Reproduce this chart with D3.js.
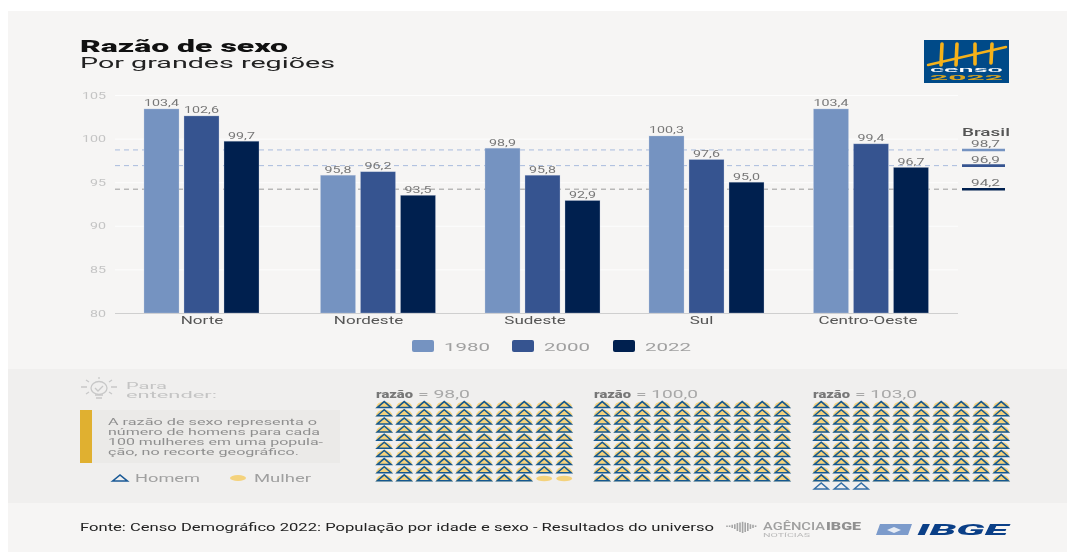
<!DOCTYPE html>
<html><head><meta charset="utf-8">
<script src="https://cdn.jsdelivr.net/npm/d3@7"></script>
<style>html,body{margin:0;background:#fff}svg{display:block;filter:blur(.4px)}text{font-family:Roboto,sans-serif}</style>
</head><body><svg id="c" width="1067" height="552"></svg>
<script>
const regions=["Norte","Nordeste","Sudeste","Sul","Centro-Oeste"];
const years=["1980","2000","2022"];
const v1980=[103.4,95.8,98.9,100.3,103.4];
const v2000=[102.6,96.2,95.8,97.6,99.4];
const v2022=[99.7,93.5,92.9,95.0,96.7];
const brasil=[98.7,96.9,94.2];
const yTicks=[80,85,90,95,100,105];
const ratios=[98,100,103];
const colors=["#7593c1","#365490","#00204f"];
const noteLines=["A razão de sexo representa o","número de homens para cada","100 mulheres em uma popula-","ção, no recorte geográfico."];
const fmt=v=>v.toFixed(1).replace(".",",");
const series=[v1980,v2000,v2022];

const svg=d3.select("#c");
function T(x,y,s,o={}){
  const t=svg.append("text").attr("x",x).attr("y",y).text(s)
    .attr("font-size",o.size||11).attr("fill",o.fill||"#666")
    .attr("font-weight",o.weight||400).attr("text-anchor",o.anchor||"start");
  if(o.style)t.attr("font-style",o.style);
  if(o.w)t.attr("textLength",o.w).attr("lengthAdjust","spacingAndGlyphs");
  return t;
}
function stretch(sel,k){sel.each(function(){const n=this.getComputedTextLength();
  d3.select(this).attr("textLength",n*k).attr("lengthAdjust","spacingAndGlyphs");});}

svg.append("rect").attr("x",8).attr("y",11).attr("width",1059).attr("height",541).attr("fill","#f6f5f4");
svg.append("rect").attr("x",8).attr("y",369).attr("width",1059).attr("height",134).attr("fill","#f0efee");

T(80,52,"Razão de sexo",{size:16,weight:900,fill:"#111",w:208});
T(80,68,"Por grandes regiões",{size:14.5,fill:"#222",w:255});

const y=d3.scaleLinear().domain([80,105]).range([313,95]);
const x=d3.scaleOrdinal(regions,[201.5,378,542.5,706.5,871]);
const xLabel=d3.scalePoint(regions,[201.5,867.5]);
const b=d3.scaleBand(years,[-57.5,57.5]).paddingInner(0.125);
const L=115,R=958;

// y axis
const ya=svg.append("g").attr("transform",`translate(${L},0)`)
  .call(d3.axisLeft(y).tickValues(yTicks).tickSize(-(R-L)).tickPadding(9));
ya.select(".domain").remove();
ya.selectAll(".tick line").attr("stroke",d=>d===80?"#cfcfcf":"#fdfdfd").attr("stroke-width",1);
ya.selectAll("text").attr("fill","#c4c4c4").attr("font-size",9.5).call(stretch,1.5);

// Brasil reference lines
const refCol=["#a9bbdd","#a9bbdd","#9a9a9a"];
brasil.forEach((v,i)=>{
  svg.append("line").attr("x1",L).attr("x2",R).attr("y1",y(v)).attr("y2",y(v))
    .attr("stroke",refCol[i]).attr("stroke-width",1).attr("stroke-dasharray","5 4");
  svg.append("line").attr("x1",962).attr("x2",1005).attr("y1",y(v)).attr("y2",y(v))
    .attr("stroke",colors[i]).attr("stroke-width",2.6);
});
T(962,136,"Brasil",{size:10,weight:500,fill:"#555",w:48});
T(971,147,fmt(brasil[0]),{size:9.5,fill:"#777",w:29});
T(971,163,fmt(brasil[1]),{size:9.5,fill:"#777",w:29});
T(971,186,fmt(brasil[2]),{size:9.5,fill:"#777",w:29});

// bars
years.forEach((yr,s)=>{
  const g=svg.append("g");
  g.selectAll("rect").data(series[s]).join("rect")
    .attr("x",(d,i)=>x(regions[i])+b(yr)).attr("width",b.bandwidth())
    .attr("y",d=>y(d)).attr("height",d=>y(80)-y(d)).attr("fill",colors[s])
    .attr("stroke","#c9d3e6").attr("stroke-opacity",.5).attr("stroke-width",.6);
  g.selectAll("text").data(series[s]).join("text")
    .attr("x",(d,i)=>x(regions[i])+b(yr)+b.bandwidth()/2).attr("y",d=>y(d)-2.6)
    .attr("text-anchor","middle").attr("font-size",9.5).attr("fill","#777").text(fmt)
    .call(stretch,1.5);
});

// x axis
const xa=svg.append("g").attr("transform","translate(0,313)")
  .call(d3.axisBottom(xLabel).tickSize(0).tickPadding(4));
xa.select(".domain").remove();
xa.selectAll("text").attr("font-size",10.5).attr("fill","#555").attr("font-family","Roboto").call(stretch,1.62);

// legend
const lx=d3.scaleOrdinal(years,[412,512,613]);
years.forEach((yr,i)=>{
  svg.append("rect").attr("x",lx(yr)).attr("y",340).attr("width",22).attr("height",12).attr("rx",2).attr("fill",colors[i]);
  T(lx(yr)+32,351,yr,{size:10.5,fill:"#a0a0a0",w:46});
});

// logo
svg.append("rect").attr("x",924).attr("y",40).attr("width",85).attr("height",43).attr("fill","#004a88");
const lg=svg.append("g").attr("stroke","#f5b21a").attr("stroke-linecap","round");
[[942,44,941,65],[957,44,956,65],[975,44,975,64],[992,44,991,63],[928,65,1006,47]].forEach(p=>
  lg.append("line").attr("x1",p[0]).attr("y1",p[1]).attr("x2",p[2]).attr("y2",p[3]).attr("stroke-width",p[0]===928?2.4:3.6));
T(930,72,"censo",{size:7.5,fill:"#fff",w:73,weight:500});
T(930,80,"2022",{size:7.5,fill:"#d9a520",w:73,weight:700});

// para entender
const bulb=svg.append("g").attr("fill","none").attr("stroke","#c8c8c8").attr("stroke-width",1.3);
bulb.append("ellipse").attr("cx",99).attr("cy",388).attr("rx",8).attr("ry",6.5);
bulb.append("path").attr("d","M95 395h8M96 398h6M95 388l3 3 5-5M81 387h6M111 387h6M86 380l3 2M112 380l-3 2M86 394l3-2M112 394l-3-2M99 379v-2");
T(126,388.5,"Para",{size:9.5,fill:"#c4c4c4",w:41});
T(126,397.5,"entender:",{size:9.5,fill:"#c4c4c4",w:91});
svg.append("rect").attr("x",80).attr("y",410).attr("width",260).attr("height",53).attr("fill","#ebeae8");
svg.append("rect").attr("x",80).attr("y",410).attr("width",12).attr("height",53).attr("fill","#e0b030");
const noteW=[209,212,215,191], noteY=[425,435,445,455];
noteLines.forEach((s,i)=>T(108,noteY[i],s,{size:9.5,fill:"#8f8f8f",w:noteW[i]}));

const triPath=d3.line()([[-7,3],[0,-3],[7,3]])+"Z";
const domePath="M-8.2,3.4A8.2,6.6 0 0 1 8.2,3.4Z";
svg.append("path").attr("d",triPath).attr("transform","translate(120,478) scale(1.05,1)").attr("fill","none").attr("stroke","#1a5a96").attr("stroke-width",1.6);
T(135,482,"Homem",{size:10,fill:"#a0a0a0",w:65});
svg.append("ellipse").attr("cx",238).attr("cy",478).attr("rx",8).attr("ry",3).attr("fill","#f4d27c");
T(254,482,"Mulher",{size:10,fill:"#a0a0a0",w:57});

// pictograms
const gx=d3.scaleOrdinal(ratios,[376,594,813]);
const cx=d3.scaleLinear().domain([0,9]).range([8.2,188.2]);
const cy=d3.scaleLinear().domain([0,10]).range([404.6,486]);
ratios.forEach(r=>{
  T(gx(r),398,"razão",{size:10,weight:900,fill:"#777",w:37});
  T(gx(r)+42,398,"= "+fmt(r),{size:10,fill:"#a8a8a8",w:r>=100?62:52});
  const g=svg.append("g").attr("transform",`translate(${gx(r)},0)`);
  const cells=d3.range(Math.max(r,100)).map(i=>({i,man:i<r,woman:i<100}));
  const c=g.selectAll("g").data(cells).join("g")
    .attr("transform",d=>`translate(${cx(d.i%10)},${cy(Math.floor(d.i/10))})`);
  c.filter(d=>d.woman&&d.man).append("path").attr("d",domePath).attr("fill","#f4d27c");
  c.filter(d=>d.woman&&!d.man).append("ellipse").attr("rx",8).attr("ry",2.8).attr("cy",.6).attr("fill","#f4d27c");
  c.filter(d=>d.man).append("path").attr("d",triPath).attr("fill","none")
    .attr("stroke",d=>d.woman?"#15588f":"#356fa6").attr("stroke-width",1.5);
});

// footer
T(80,531,"Fonte: Censo Demográfico 2022: População por idade e sexo - Resultados do universo",{size:10,weight:400,fill:"#222",w:634});
const ag=svg.append("g").attr("stroke","#a5a5a5").attr("stroke-width",1.6);
d3.range(727,758,2.6).forEach((px,i)=>{const h=[1,1,2,3,5,6,7,6,5,3,2,1,1][i]||1;
  ag.append("line").attr("x1",px).attr("x2",px).attr("y1",526-h*.6).attr("y2",526+h);});
T(763,530,"AGÊNCIA",{size:10.5,weight:500,fill:"#a0a0a0",w:62});
T(826,530,"IBGE",{size:10.5,weight:900,fill:"#909090",w:35});
T(763,537,"NOTÍCIAS",{size:6,fill:"#bbb",w:47});
svg.append("path").attr("d","M880 524H912L908 535H876Z").attr("fill","#7c9bcb");
svg.append("path").attr("d","M887 530L894 527L901 530L894 533Z").attr("fill","#e6ecf5");
T(917,535,"IBGE",{size:15,weight:900,style:"italic",fill:"#0a3f87",w:91});
</script></body></html>
